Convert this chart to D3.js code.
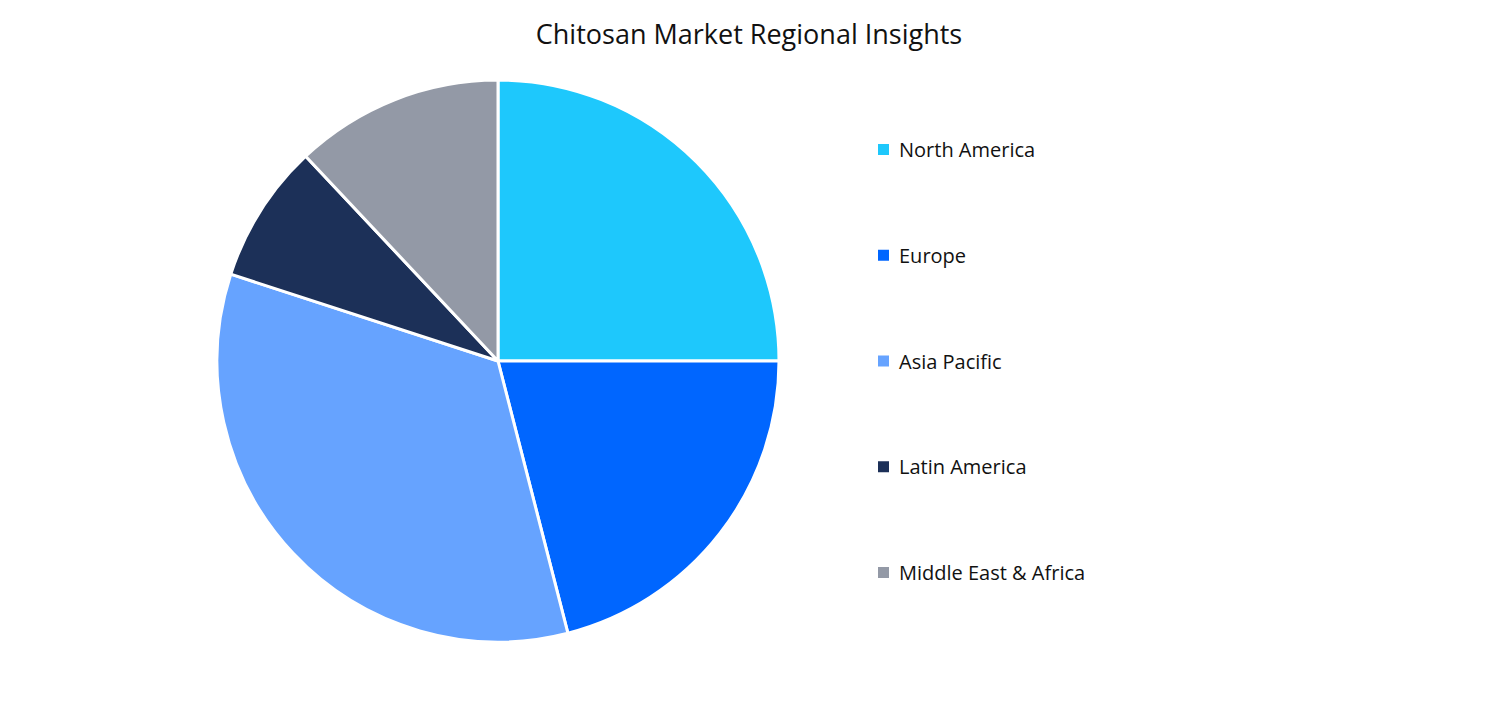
<!DOCTYPE html>
<html>
<head>
<meta charset="utf-8">
<script src="https://cdn.jsdelivr.net/npm/d3@7"></script>
<style>
  body { margin: 0; background: #fff; }
  text { font-family: "Open Sans", "Noto Sans", sans-serif; }
</style>
</head>
<body>
<div id="container"></div>
<script>
let w = 1498;
let h = 724;

// data (share of the pie, %)
let regions = ["North America", "Europe", "Asia Pacific", "Latin America", "Middle East & Africa"];
let shares = [25, 21, 34, 8, 12];
let colors = ["#1EC8FC", "#0066FF", "#66A3FF", "#1C3058", "#9399A6"];

let viz = d3.select("#container")
  .append("svg")
    .attr("width", w)
    .attr("height", h)
    .style("background-color", "#FFFFFF");

viz.append("text")
  .attr("x", 749)
  .attr("y", 44)
  .attr("text-anchor", "middle")
  .attr("style", "font-size:27px;")
  .attr("fill", "#111")
  .text("Chitosan Market Regional Insights");

let pie = d3.pie().sort(null).value(d => d);
let arc = d3.arc().innerRadius(0).outerRadius(281);

let color = d3.scaleOrdinal().domain(regions).range(colors);

let g = viz.append("g").attr("transform", "translate(498,361)");

g.selectAll("path")
  .data(pie(shares))
  .join("path")
    .attr("d", arc)
    .attr("fill", (d, i) => color(regions[i]))
    .attr("stroke", "#fff")
    .attr("stroke-width", 3)
    .attr("stroke-linejoin", "round");

// legend
let ly = d3.scalePoint().domain(regions).range([150, 573]);

let leg = viz.append("g");
leg.selectAll("rect")
  .data(regions)
  .join("rect")
    .attr("x", 878)
    .attr("y", d => ly(d) - 6)
    .attr("width", 11)
    .attr("height", 11)
    .attr("fill", d => color(d));

leg.selectAll("text")
  .data(regions)
  .join("text")
    .attr("x", 899)
    .attr("y", d => ly(d) + 7)
    .attr("style", "font-size:20px;")
    .attr("fill", "#111")
    .text(d => d);
</script>
</body>
</html>
